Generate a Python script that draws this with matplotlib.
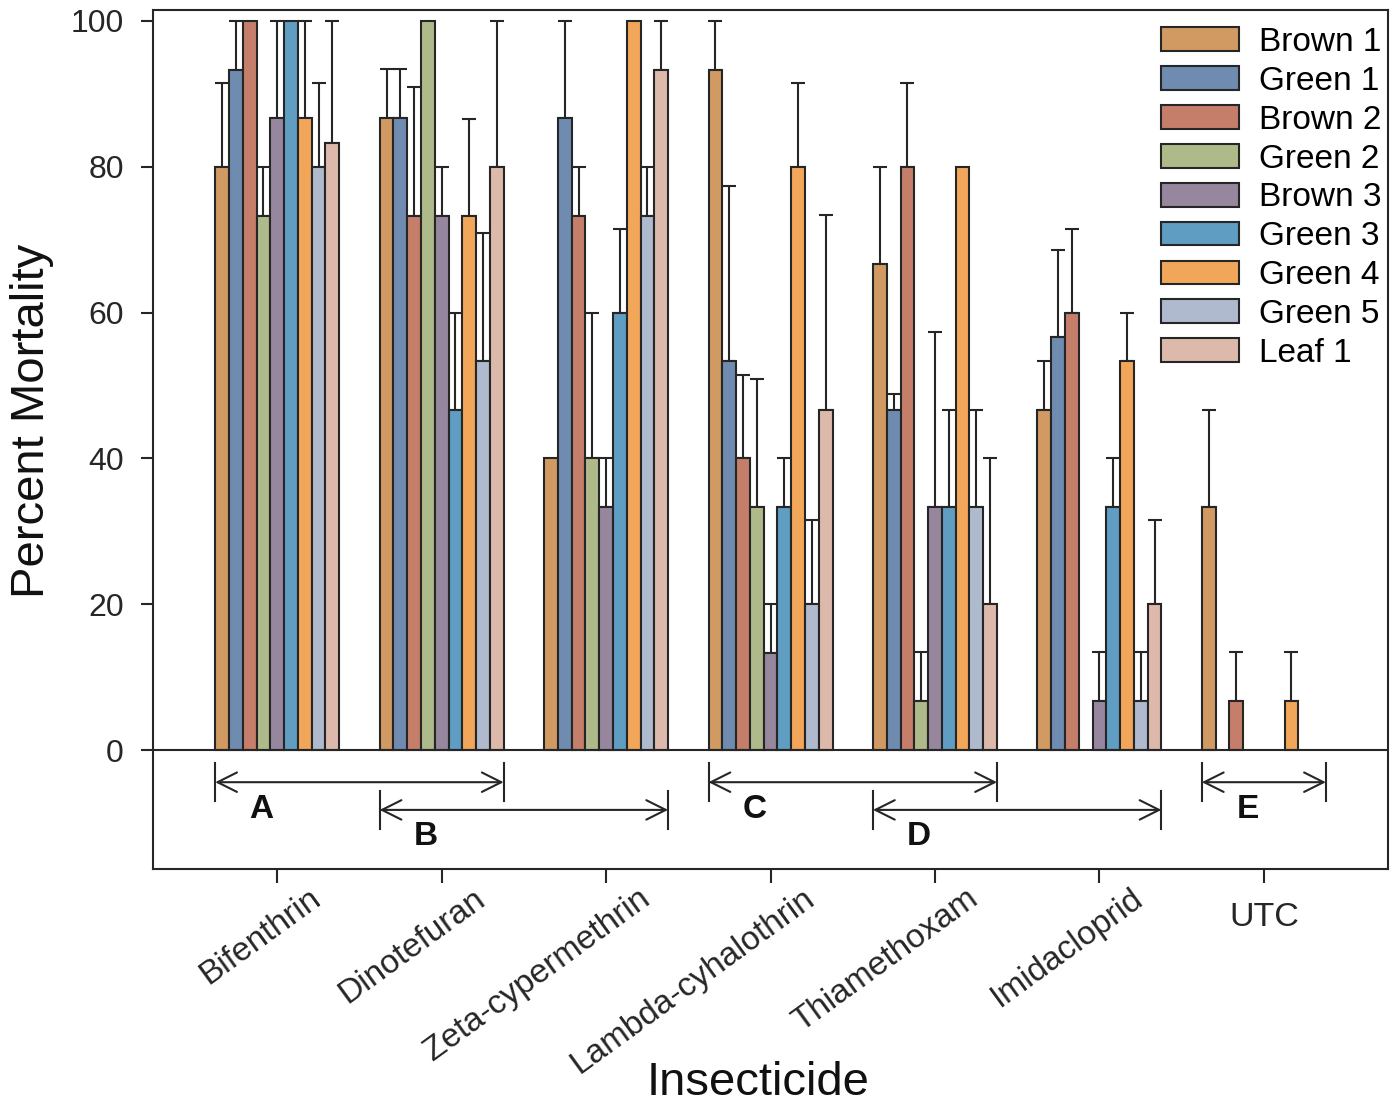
import numpy as np
import matplotlib.pyplot as plt
from matplotlib.patches import Patch

plt.rcParams['font.family'] = ['Liberation Sans', 'DejaVu Sans']

# categorie e serie
insetticidi = ['Bifenthrin', 'Dinotefuran', 'Zeta-cypermethrin', 'Lambda-cyhalothrin',
               'Thiamethoxam', 'Imidacloprid', 'UTC']
serie = ['Brown 1', 'Green 1', 'Brown 2', 'Green 2', 'Brown 3',
         'Green 3', 'Green 4', 'Green 5', 'Leaf 1']
colori = ['#D09A62', '#6F8BB0', '#C47E69', '#AFBA8A', '#97879E',
          '#5F9DC2', '#F2A65A', '#B0BACE', '#DDB9AC']

# mortalita' (%) per serie, una voce per insetticida
brown1 = [80.0, 86.7, 40.0, 93.3, 66.7, 46.7, 33.3]
green1 = [93.3, 86.7, 86.7, 53.3, 46.7, 56.7, 0.0]
brown2 = [100.0, 73.3, 73.3, 40.0, 80.0, 60.0, 6.7]
green2 = [73.3, 100.0, 40.0, 33.3, 6.7, 0.0, 0.0]
brown3 = [86.7, 73.3, 33.3, 13.3, 33.3, 6.7, 0.0]
green3 = [100.0, 46.7, 60.0, 33.3, 33.3, 33.3, 0.0]
green4 = [86.7, 73.3, 100.0, 80.0, 80.0, 53.3, 6.7]
green5 = [80.0, 53.3, 73.3, 20.0, 33.3, 6.7, 0.0]
leaf1 = [83.3, 80.0, 93.3, 46.7, 20.0, 20.0, 0.0]

# errore standard (solo verso l'alto)
se_brown1 = [11.5, 6.7, 0.0, 6.7, 13.3, 6.7, 13.3]
se_green1 = [6.7, 6.7, 13.3, 24.0, 2.2, 11.9, 0.0]
se_brown2 = [0.0, 17.6, 6.7, 11.5, 11.5, 11.5, 6.7]
se_green2 = [6.7, 0.0, 20.0, 17.6, 6.7, 0.0, 0.0]
se_brown3 = [13.3, 6.7, 6.7, 6.7, 24.0, 6.7, 0.0]
se_green3 = [0.0, 13.3, 11.5, 6.7, 13.3, 6.7, 0.0]
se_green4 = [13.3, 13.3, 0.0, 11.5, 0.0, 6.7, 6.7]
se_green5 = [11.5, 17.6, 6.7, 11.5, 13.3, 6.7, 0.0]
se_leaf1 = [16.7, 20.0, 6.7, 26.7, 20.0, 11.5, 0.0]

valori = [brown1, green1, brown2, green2, brown3, green3, green4, green5, leaf1]
errori = [se_brown1, se_green1, se_brown2, se_green2, se_brown3,
          se_green3, se_green4, se_green5, se_leaf1]

# gruppi statistici: lettera, primo e ultimo insetticida, livello
gruppi = [('A', 0, 1, 0), ('B', 1, 2, 1), ('C', 3, 4, 0), ('D', 4, 5, 1), ('E', 6, 6, 0)]

scuro = '#262626'
fig = plt.figure(figsize=(13.95, 11.05), dpi=100)
ax = fig.add_axes([0.1097, 0.2136, 0.8853, 0.7774])

x = np.arange(len(insetticidi))
w = 0.0838
for j, (nome, v, e, c) in enumerate(zip(serie, valori, errori, colori)):
    v = np.array(v)
    e = np.array(e)
    pos = x + (j - 4) * w
    m = v > 0
    ax.bar(pos[m], v[m], w, color=c, edgecolor=scuro, linewidth=1.5, zorder=2)
    me = m & (e > 0)
    ax.errorbar(pos[me], v[me], yerr=[np.zeros(me.sum()), e[me]], fmt='none',
                ecolor=scuro, elinewidth=1.5, capsize=4.8, capthick=1.5, zorder=1)

ax.axhline(0, color=scuro, lw=1.5, zorder=3)

# frecce dei gruppi
livelli_y = [-4.4, -8.2]
for lettera, a, b, liv in gruppi:
    x0 = a - 4.5 * w
    x1 = b + 4.5 * w
    y = livelli_y[liv]
    ax.annotate('', xy=(x1, y), xytext=(x0, y),
                arrowprops=dict(arrowstyle='<->,head_length=0.7,head_width=0.35',
                                color=scuro, lw=1.5, shrinkA=0, shrinkB=0,
                                mutation_scale=20))
    for xx in (x0, x1):
        ax.plot([xx, xx], [y - 2.6, y + 2.6], color=scuro, lw=1.5)
    ax.text(x0 + 0.28, y - 3.7, lettera, ha='center', va='center',
            fontsize=24, fontweight='bold', color='#111111')

ax.set_xlim(-0.755, 6.755)
ax.set_ylim(-16.3, 101.5)
ax.set_yticks([0, 20, 40, 60, 80, 100])
ax.set_xticks(x)
ax.set_xticklabels([])
ax.tick_params(axis='y', direction='out', length=9, width=1.5, pad=12,
               labelsize=23, colors=scuro)
ax.tick_params(axis='x', direction='out', length=10, width=1.5, colors=scuro)
for s in ax.spines.values():
    s.set_linewidth(1.5)
    s.set_color(scuro)

# etichette dell'asse x (UTC orizzontale come nell'originale)
for i, nome in enumerate(insetticidi):
    if nome == 'UTC':
        ax.text(i, -0.038, nome, transform=ax.get_xaxis_transform(),
                ha='center', va='top', fontsize=24.5, color=scuro)
    else:
        ax.text(i + 0.19, -0.016, nome, transform=ax.get_xaxis_transform(),
                ha='right', va='top', rotation=36, rotation_mode='anchor',
                fontsize=24, color=scuro)

ax.set_ylabel('Percent Mortality', fontsize=34, color='#111111')
ax.yaxis.set_label_coords(-0.080, 0.5215)
ax.set_xlabel('Insecticide', fontsize=34, color='#111111')
ax.xaxis.set_label_coords(0.49, -0.224)

maniglie = [Patch(facecolor=c, edgecolor=scuro, linewidth=1.5) for c in colori]
ax.legend(maniglie, serie, loc='upper right', bbox_to_anchor=(1.0, 0.988),
          frameon=False, fontsize=24, handlelength=2.34, handleheight=0.72,
          handletextpad=0.6, labelspacing=0.236, borderpad=0.1, borderaxespad=0.1)

plt.savefig('out.png', dpi=100)
